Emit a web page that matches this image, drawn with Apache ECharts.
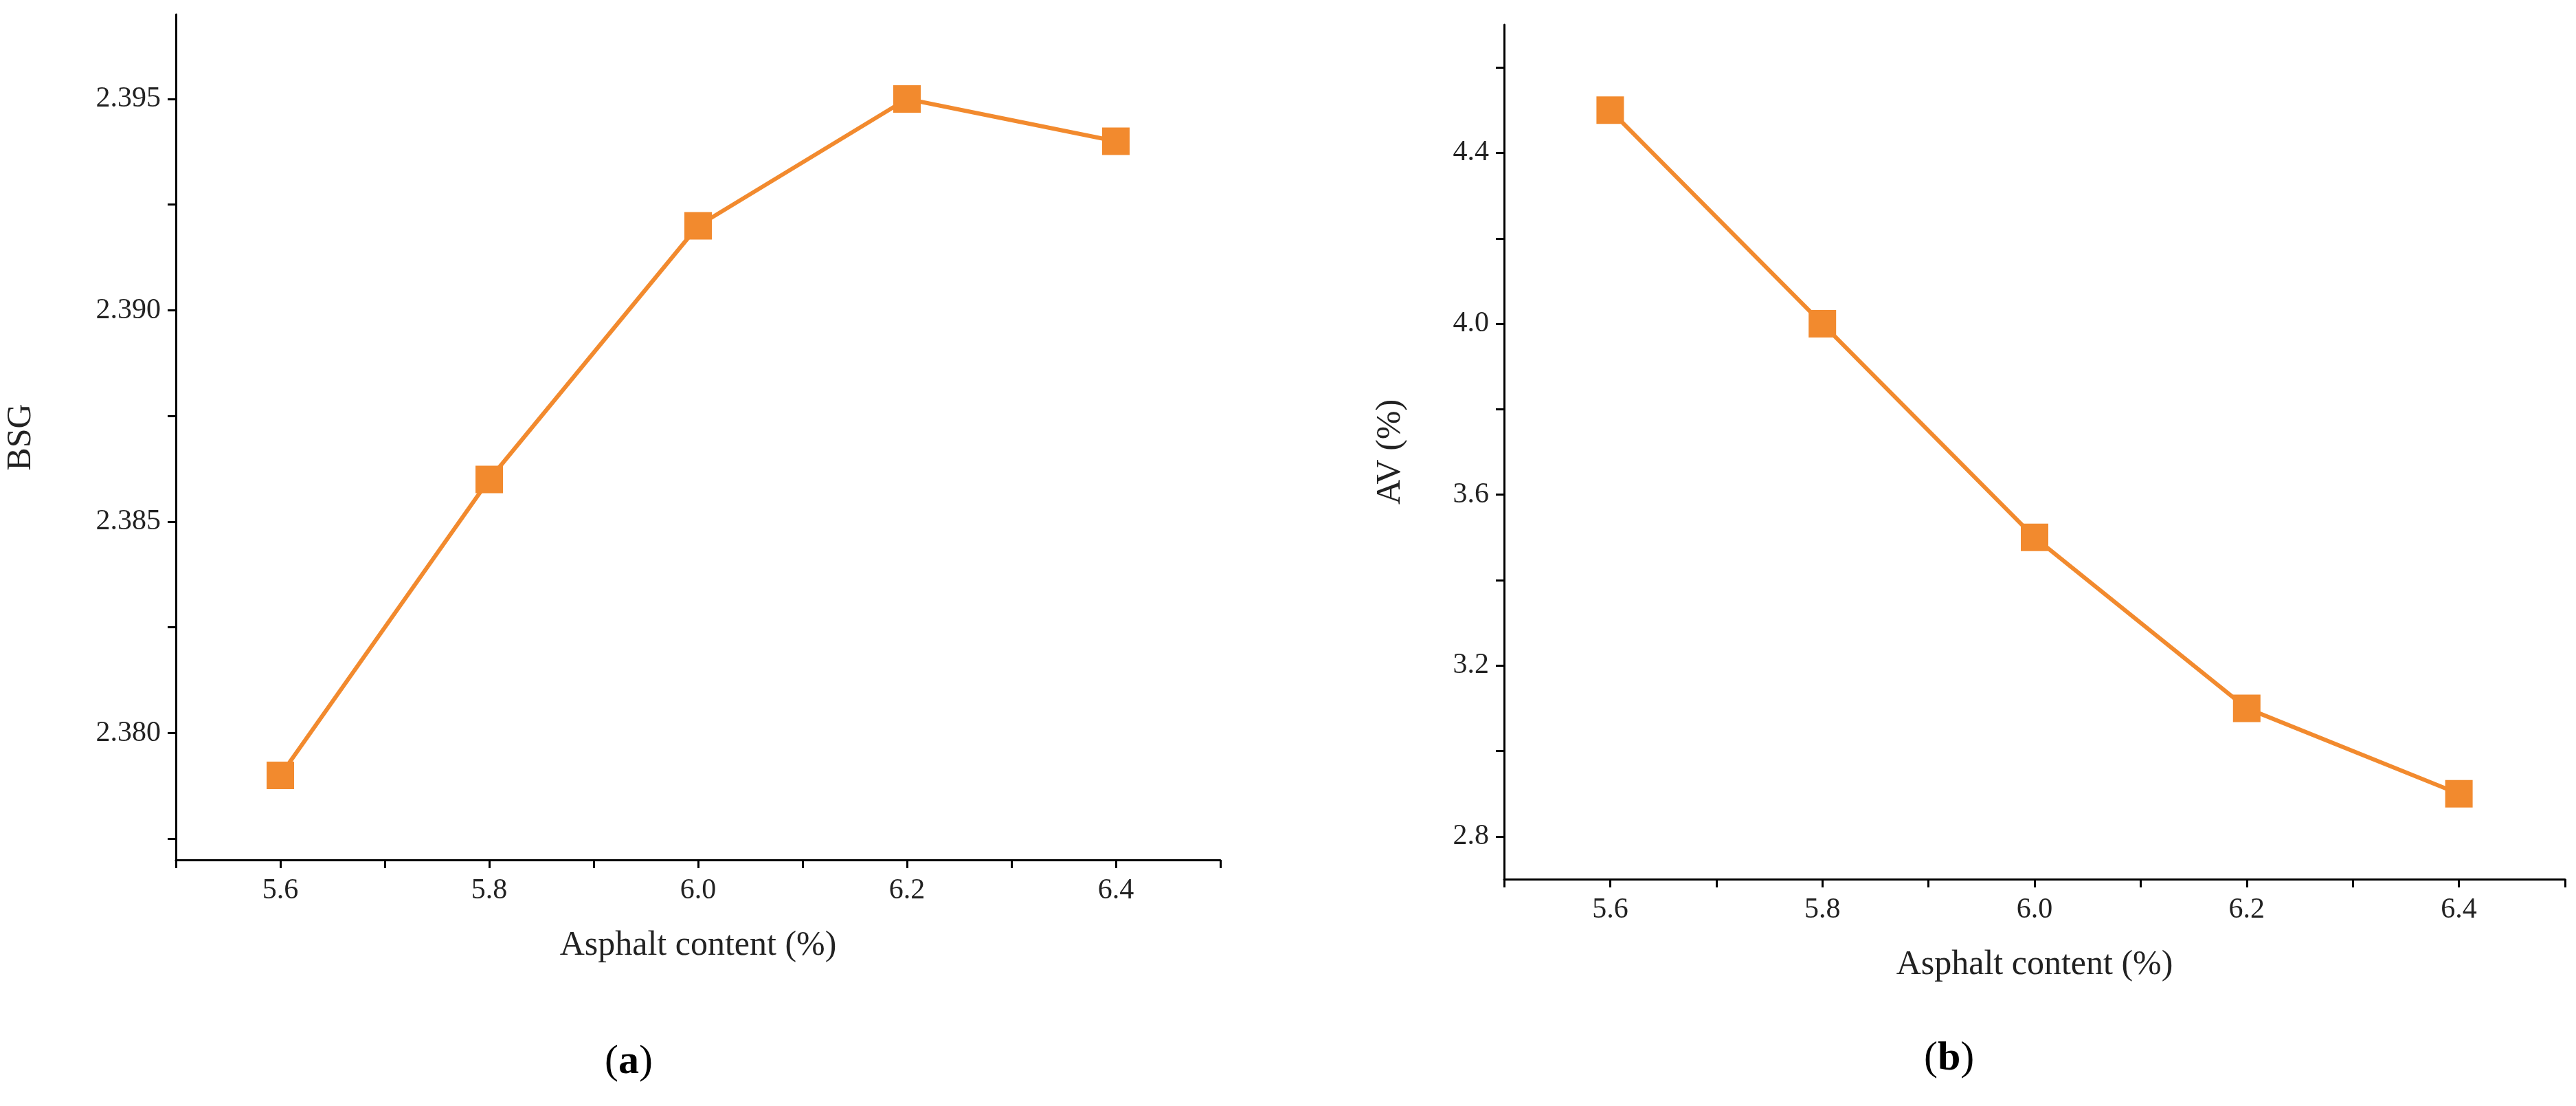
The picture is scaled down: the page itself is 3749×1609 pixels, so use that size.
<!DOCTYPE html>
<html>
<head>
<meta charset="utf-8">
<script src="https://cdn.jsdelivr.net/npm/echarts@6/dist/echarts.min.js"></script>
<style>
  html, body { margin: 0; padding: 0; background: #fff; }
  #chart { width: 3749px; height: 1609px; }
</style>
</head>
<body>
<div id="chart"></div>
<script>
const asphaltContent = [5.6, 5.8, 6.0, 6.2, 6.4];
const bsgValues = [2.379, 2.386, 2.392, 2.395, 2.394];
const avValues = [4.5, 4.0, 3.5, 3.1, 2.9];
const xLabels = [5.6, 5.8, 6.0, 6.2, 6.4];
const xTicks = [5.5, 5.6, 5.7, 5.8, 5.9, 6.0, 6.1, 6.2, 6.3, 6.4, 6.5];
const bsgLabels = [2.380, 2.385, 2.390, 2.395];
const bsgTicks = [2.3775, 2.380, 2.3825, 2.385, 2.3875, 2.390, 2.3925, 2.395];
const avLabels = [2.8, 3.2, 3.6, 4.0, 4.4];
const avTicks = [2.8, 3.0, 3.2, 3.4, 3.6, 3.8, 4.0, 4.2, 4.4, 4.6];

const font = 'Liberation Serif';
const orange = '#F28A2E';

function xAxisFor(gridIndex) {
    return {
        type: 'value', gridIndex: gridIndex, min: 5.5, max: 6.5,
        name: 'Asphalt content (%)', nameLocation: 'middle', nameGap: 100,
        nameTextStyle: { fontFamily: font, fontSize: 50, color: '#222' },
        axisLine: { onZero: false, lineStyle: { color: '#000', width: 3 } },
        axisTick: { show: true, length: 12, lineStyle: { color: '#000', width: 3 }, customValues: xTicks },
        axisLabel: { fontFamily: font, fontSize: 42, color: '#222', margin: 24,
            customValues: xLabels, formatter: v => v.toFixed(1) },
        splitLine: { show: false }
    };
}

function yAxisFor(gridIndex, name, min, max, labels, ticks, digits, gap) {
    return {
        type: 'value', gridIndex: gridIndex, min: min, max: max,
        name: name, nameLocation: 'middle', nameGap: gap,
        nameTextStyle: { fontFamily: font, fontSize: 50, color: '#222' },
        axisLine: { show: true, lineStyle: { color: '#000', width: 3 } },
        axisTick: { show: true, length: 12, lineStyle: { color: '#000', width: 3 }, customValues: ticks },
        axisLabel: { fontFamily: font, fontSize: 42, color: '#222', margin: 22,
            customValues: labels, formatter: v => v.toFixed(digits) },
        splitLine: { show: false }
    };
}

function seriesFor(idx, values) {
    return {
        type: 'line', xAxisIndex: idx, yAxisIndex: idx,
        data: asphaltContent.map((x, i) => [x, values[i]]),
        symbol: 'rect', symbolSize: 40,
        lineStyle: { color: orange, width: 6 },
        itemStyle: { color: orange },
        z: 3
    };
}

const chart = echarts.init(document.getElementById('chart'));
chart.setOption({
    animation: false,
    backgroundColor: '#fff',
    grid: [
        { left: 256, top: 21, width: 1520, height: 1230 },
        { left: 2189, top: 36, width: 1544, height: 1243 }
    ],
    xAxis: [xAxisFor(0), xAxisFor(1)],
    yAxis: [
        yAxisFor(0, 'BSG', 2.377, 2.397, bsgLabels, bsgTicks, 3, 200),
        yAxisFor(1, 'AV (%)', 2.7, 4.7, avLabels, avTicks, 1, 140)
    ],
    series: [seriesFor(0, bsgValues), seriesFor(1, avValues)],
    graphic: [
        { type: 'text', left: 880, top: 1515, style: { rich: { n: { fontFamily: font, fontSize: 60, fill: '#000' }, b: { fontFamily: font, fontSize: 60, fontWeight: 'bold', fill: '#000' } }, text: '{n|(}{b|a}{n|)}' } },
        { type: 'text', left: 2800, top: 1510, style: { rich: { n: { fontFamily: font, fontSize: 60, fill: '#000' }, b: { fontFamily: font, fontSize: 60, fontWeight: 'bold', fill: '#000' } }, text: '{n|(}{b|b}{n|)}' } }
    ]
});
</script>
</body>
</html>
